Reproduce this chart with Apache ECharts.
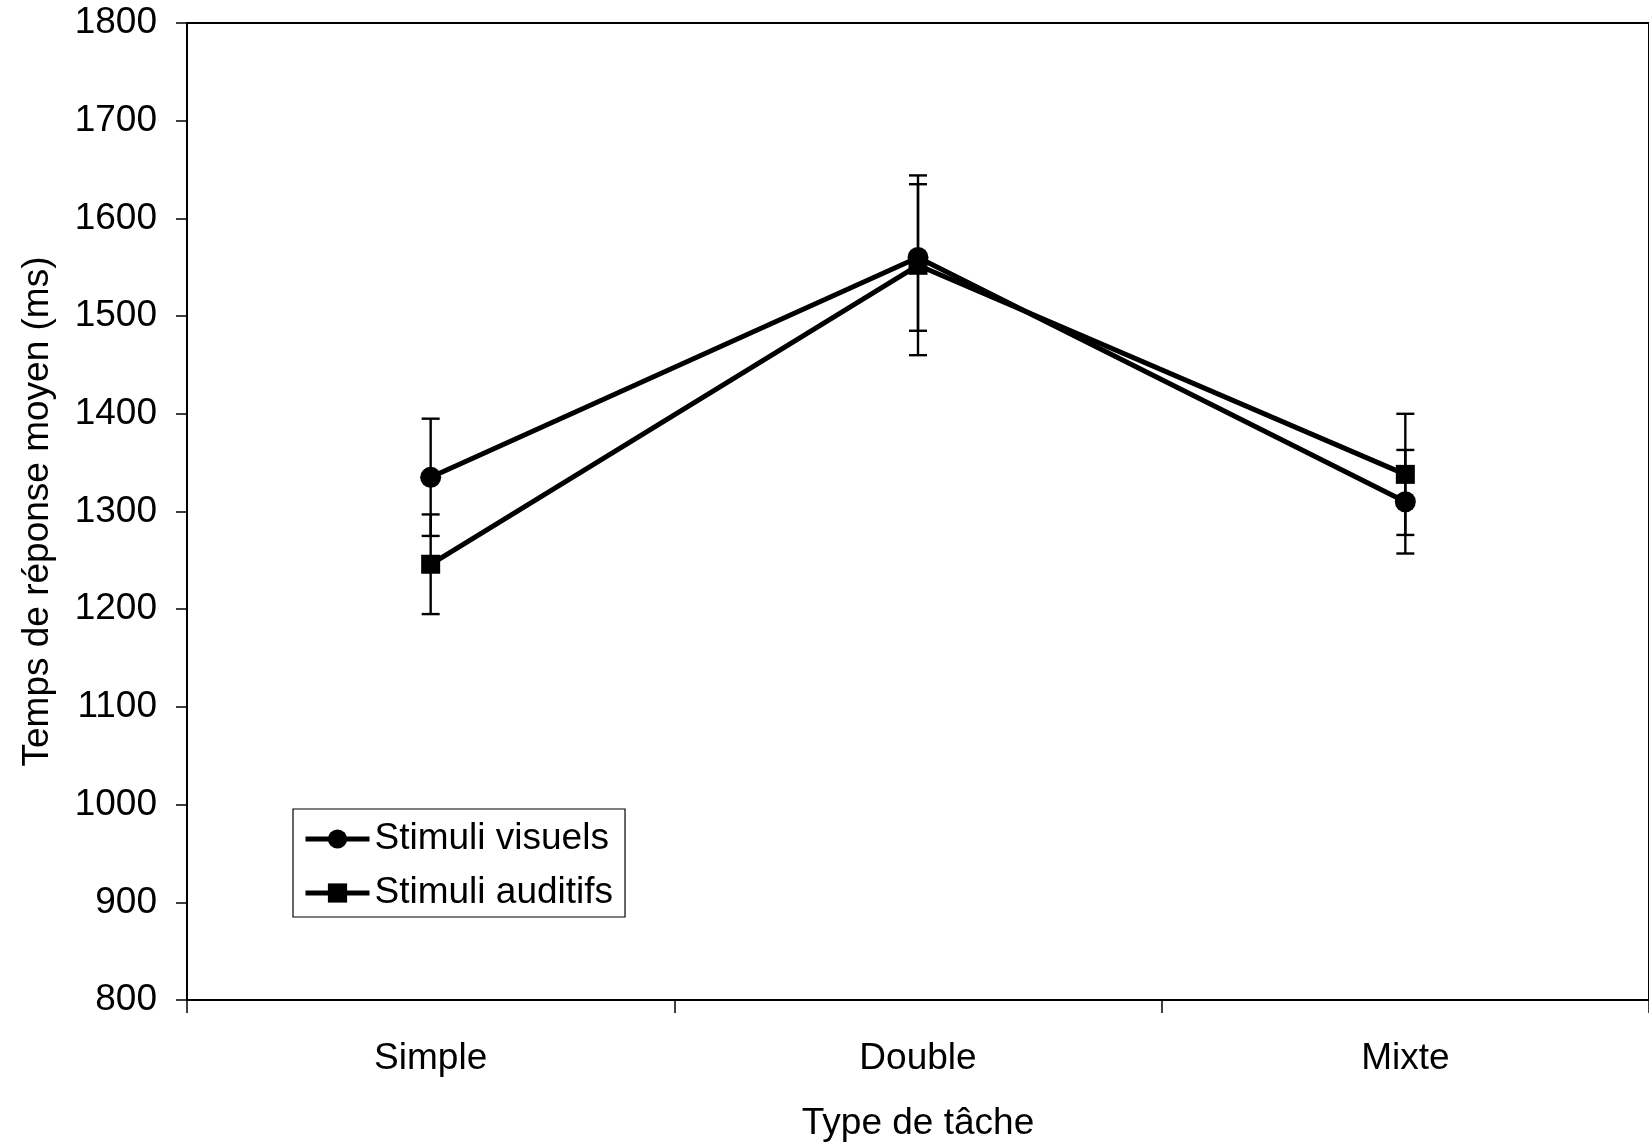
<!DOCTYPE html>
<html>
<head>
<meta charset="utf-8">
<script src="https://cdn.jsdelivr.net/npm/echarts@6/dist/echarts.min.js"></script>
<style>
html,body{margin:0;padding:0;background:#fff;}
#chart{width:1649px;height:1147px;}
</style>
</head>
<body>
<div id="chart"></div>
<script>
const categories = ['Simple', 'Double', 'Mixte'];
const visuels = [1335, 1560, 1310];
const visuelsErr = [60, 75, 53];
const auditifs = [1246, 1552, 1338];
const auditifsErr = [51, 92, 62];
const yTicks = [800, 900, 1000, 1100, 1200, 1300, 1400, 1500, 1600, 1700, 1800];

const FONT = "'Liberation Sans', Arial, Helvetica, sans-serif";

function errData(vals, errs) {
  return vals.map((v, i) => [i, v - errs[i], v + errs[i]]);
}

function renderErr(params, api) {
  const x = api.value(0);
  const lo = api.coord([x, api.value(1)]);
  const hi = api.coord([x, api.value(2)]);
  const hw = 9;
  const style = { stroke: '#000', lineWidth: 2.4 };
  return {
    type: 'group',
    children: [
      { type: 'line', shape: { x1: lo[0], y1: lo[1], x2: hi[0], y2: hi[1] }, style: style },
      { type: 'line', shape: { x1: lo[0] - hw, y1: lo[1], x2: lo[0] + hw, y2: lo[1] }, style: style },
      { type: 'line', shape: { x1: hi[0] - hw, y1: hi[1], x2: hi[0] + hw, y2: hi[1] }, style: style }
    ]
  };
}

const chart = echarts.init(document.getElementById('chart'), null, { renderer: 'canvas' });
chart.setOption({
  backgroundColor: '#fff',
  animation: false,
  textStyle: { fontFamily: FONT, color: '#000' },
  grid: {
    left: 187, top: 23, width: 1468, height: 978,
    show: true, borderColor: '#000', borderWidth: 2, backgroundColor: 'transparent'
  },
  legend: {
    orient: 'vertical',
    left: 293, top: 809,
    padding: [9, 12, 3, 10],
    itemWidth: 64, itemHeight: 24, itemGap: 12,
    borderColor: '#000', borderWidth: 1.2,
    backgroundColor: '#fff',
    lineStyle: { width: 5 },
    textStyle: { fontFamily: FONT, fontSize: 37, color: '#000', lineHeight: 42 },
    data: ['Stimuli visuels', 'Stimuli auditifs']
  },
  xAxis: {
    type: 'category',
    data: categories,
    boundaryGap: true,
    name: 'Type de tâche',
    nameLocation: 'middle',
    nameGap: 105,
    nameTextStyle: { fontFamily: FONT, fontSize: 37, color: '#000' },
    axisLine: { lineStyle: { color: '#000', width: 2 } },
    axisTick: { show: true, alignWithLabel: false, length: 13, lineStyle: { color: '#000', width: 1.5 } },
    axisLabel: { fontFamily: FONT, fontSize: 37, color: '#000', margin: 40 },
    splitLine: { show: false }
  },
  yAxis: {
    type: 'value',
    min: 800, max: 1800, interval: 100,
    name: 'Temps de réponse moyen (ms)',
    nameLocation: 'middle',
    nameRotate: 90,
    nameGap: 131,
    nameTextStyle: { fontFamily: FONT, fontSize: 37, color: '#000' },
    axisLine: { show: true, lineStyle: { color: '#000', width: 2 } },
    axisTick: { show: true, length: 11, lineStyle: { color: '#000', width: 1.5 } },
    axisLabel: {
      fontFamily: FONT, fontSize: 37, color: '#000', margin: 30,
      formatter: v => (yTicks.indexOf(v) >= 0 ? String(v) : '')
    },
    splitLine: { show: false }
  },
  series: [
    {
      name: 'Stimuli visuels',
      type: 'line',
      data: visuels,
      symbol: 'circle',
      symbolSize: 21,
      lineStyle: { color: '#000', width: 5 },
      itemStyle: { color: '#000' },
      z: 3
    },
    {
      name: 'Stimuli auditifs',
      type: 'line',
      data: auditifs,
      symbol: 'rect',
      symbolSize: 19,
      lineStyle: { color: '#000', width: 5 },
      itemStyle: { color: '#000' },
      z: 3
    },
    {
      type: 'custom',
      renderItem: renderErr,
      data: errData(visuels, visuelsErr),
      encode: { x: 0, y: [1, 2] },
      z: 2
    },
    {
      type: 'custom',
      renderItem: renderErr,
      data: errData(auditifs, auditifsErr),
      encode: { x: 0, y: [1, 2] },
      z: 2
    }
  ]
});
</script>
</body>
</html>
